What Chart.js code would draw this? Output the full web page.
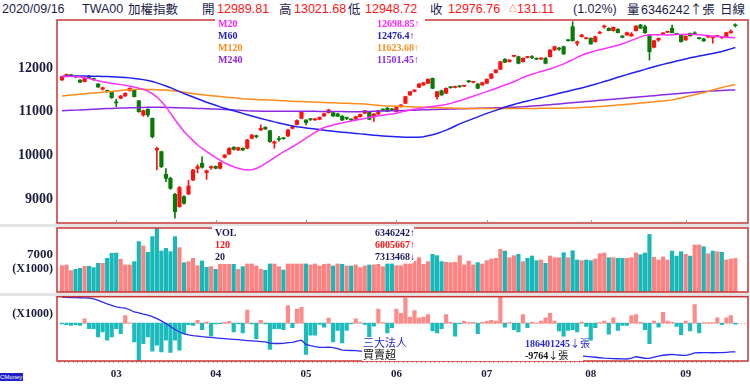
<!DOCTYPE html>
<html>
<head>
<meta charset="utf-8">
<script src="https://cdn.jsdelivr.net/npm/chart.js@4.4.0/dist/chart.umd.min.js"></script>
<style>
  body { margin: 0; background: #fff; width: 750px; height: 391px; overflow: hidden; position: relative;
         font-family: "Liberation Sans", "Noto Sans CJK TC", sans-serif; }
  canvas { position: absolute; left: 0; }
  .t { position: absolute; white-space: nowrap; }
  .hd { top: 1px; font-size: 12.5px; line-height: 16px; color: #1c1c4c; }
  .hd.r { color: #ff1414; }
  .cj { font-family: "Noto Sans CJK TC", sans-serif; }
  .band { position: absolute; left: 0; width: 750px; background: #e4e4e4; }
  .box { position: absolute; background: #fff; }
  .lg { font: bold 10px "Liberation Serif", serif; line-height: 12px; }
  .ax { font: bold 13px "Liberation Serif", serif; color: #1c1c3c; text-align: right; }
</style>
</head>
<body>
<!-- header -->
<span class="t hd" style="left:2px">2020/09/16</span>
<span class="t hd" style="left:82px">TWA00</span>
<span class="t hd cj" style="left:128px">加權指數</span>
<span class="t hd cj" style="left:202px">開</span>
<span class="t hd r" style="left:217px">12989.81</span>
<span class="t hd cj" style="left:279px">高</span>
<span class="t hd r" style="left:294px">13021.68</span>
<span class="t hd cj" style="left:348px">低</span>
<span class="t hd r" style="left:365px">12948.72</span>
<span class="t hd cj" style="left:430px">收</span>
<span class="t hd r" style="left:448px">12976.76</span>
<span class="t hd r" style="left:509px"><span style="font-size:8px;vertical-align:2px">△</span>131.11</span>
<span class="t hd" style="left:573px">(1.02%)</span>
<span class="t hd cj" style="left:627px">量</span>
<span class="t hd" style="left:641px">6346242<span class="cj">↑張</span></span>
<span class="t hd cj" style="left:720px">日線</span>

<div class="band" style="top:224px;height:3px"></div>
<div class="band" style="top:293px;height:3px"></div>

<canvas id="cMain" width="750" height="206" style="top:19px"></canvas>
<canvas id="cVol" width="750" height="68" style="top:226px"></canvas>
<canvas id="cInst" width="750" height="96" style="top:295px"></canvas>

<!-- MA legend -->
<div class="box" style="left:215px;top:17px;width:210px;height:48px"></div>
<span class="t lg" style="left:218px;top:18px;color:#ff22ff">M20</span>
<span class="t lg" style="left:218px;top:30px;color:#2424b4">M60</span>
<span class="t lg" style="left:218px;top:42px;color:#ff8c1a">M120</span>
<span class="t lg" style="left:218px;top:54px;color:#8a2be2">M240</span>
<span class="t lg" style="left:377px;top:18px;color:#ff22ff">12698.85↑</span>
<span class="t lg" style="left:377px;top:30px;color:#2424b4">12476.4↑</span>
<span class="t lg" style="left:377px;top:42px;color:#ff8c1a">11623.68↑</span>
<span class="t lg" style="left:377px;top:54px;color:#8a2be2">11501.45↑</span>

<!-- volume legend -->
<div class="box" style="left:212px;top:226px;width:202px;height:37px"></div>
<span class="t lg" style="left:215px;top:227px;color:#1c1c5c">VOL</span>
<span class="t lg" style="left:215px;top:239px;color:#ff1414">120</span>
<span class="t lg" style="left:215px;top:251px;color:#1c1c5c">20</span>
<span class="t lg" style="left:375px;top:227px;color:#1c1c5c">6346242↑</span>
<span class="t lg" style="left:375px;top:239px;color:#ff1414">6005667↑</span>
<span class="t lg" style="left:375px;top:251px;color:#1c1c5c">7313468↓</span>
<span class="t ax" style="right:697px;top:261px;font-size:12px">(X1000)</span>

<!-- institutional legend -->
<div class="box" style="left:362px;top:337px;width:221px;height:24px"></div>
<span class="t cj" style="left:363px;top:336px;font-size:11px;line-height:13px;color:#2828d0">三大法人</span>
<span class="t cj" style="left:363px;top:348px;font-size:11px;line-height:13px;color:#111">買賣超</span>
<span class="t lg" style="left:525px;top:337px;color:#2828d0">186401245<span class="cj" style="font-weight:normal">↓張</span></span>
<span class="t lg" style="left:525px;top:349px;color:#111">-9764<span class="cj" style="font-weight:normal">↓張</span></span>
<span class="t ax" style="right:697px;top:306px;font-size:12px">(X1000)</span>

<span class="t" style="left:0;top:373px;width:23px;height:8px;background:#2020c8;color:#fff;font:6px 'Liberation Sans';line-height:8px">CMoney</span>

<script>
// month ticks on the date axis (trading-day index)
const monthIdx = [12, 34, 54, 74, 94, 117, 138];
const monthLabels = ['03', '04', '05', '06', '07', '08', '09'];
const yTicksMain = [9000, 10000, 11000, 12000];
const yTicksVol = [7000];

// daily candles 2020/02/12 .. 2020/09/16
const openP = [
  11731, 11835, 11845, 11810, 11730, 11693, 11823, 11760, 11640, 11520,
  11480, 11460, 11215, 11310, 11365, 11485, 11500, 11256, 10928, 11060,
  10852, 10125, 10086, 9567, 9476, 9108, 8826, 9054, 9116, 9436,
  9700, 9820, 9605, 9720, 9750, 9705, 9957, 10033, 10190, 10125,
  10165, 10164, 10393, 10440, 10584, 10645, 10568, 10280, 10370, 10395,
  10446, 10623, 10710, 10852, 10814, 10835, 10815, 10830, 10905, 10981,
  10981, 10955, 10905, 10855, 10815, 10830, 10889, 10967, 11004, 10889,
  10950, 11045, 11088, 11050, 11004, 11130, 11197, 11387, 11470, 11564,
  11617, 11656, 11770, 11348, 11486, 11426, 11560, 11560, 11580, 11590,
  11700, 11680, 11640, 11617, 11656, 11770, 11899, 11977, 12207, 12151,
  12275, 12266, 12151, 12250, 12266, 12225, 12215, 12230, 12266, 12420,
  12460, 12496, 12640, 12955, 12574, 12725, 12680, 12688, 12610, 12803,
  12950, 12918, 12863, 12895, 12741, 12764, 12741, 12863, 12994, 12955,
  12764, 12482, 12649, 12787, 12826, 12918, 12790, 12764, 12649, 12803,
  12795, 12700, 12672, 12720, 12700, 12730, 12700, 12710, 12817, 12989.81
];
const highP = [
  11815, 11870, 11860, 11825, 11740, 11780, 11840, 11775, 11650, 11570,
  11500, 11470, 11290, 11375, 11440, 11555, 11510, 11260, 11040, 11070,
  10860, 10190, 10100, 9700, 9500, 9130, 9290, 9080, 9430, 9680,
  9790, 9970, 9665, 9760, 9760, 9840, 10020, 10180, 10200, 10190,
  10175, 10370, 10480, 10470, 10700, 10660, 10575, 10330, 10440, 10410,
  10600, 10680, 10815, 11010, 10820, 10850, 10850, 10885, 10970, 11060,
  10990, 10965, 10915, 10880, 10840, 10900, 10950, 11035, 11010, 10960,
  11035, 11070, 11100, 11080, 11110, 11170, 11360, 11470, 11510, 11650,
  11680, 11760, 11780, 11470, 11500, 11550, 11580, 11590, 11600, 11610,
  11720, 11700, 11650, 11680, 11760, 11880, 11970, 12160, 12220, 12200,
  12300, 12280, 12240, 12270, 12290, 12240, 12240, 12250, 12430, 12510,
  12480, 12510, 12660, 13069, 12625, 12780, 12700, 12700, 12740, 12850,
  12990, 12930, 12950, 12910, 12750, 12830, 12820, 12975, 13010, 12990,
  12780, 12640, 12700, 12820, 12850, 12994, 12800, 12770, 12740, 12810,
  12840, 12710, 12690, 12740, 12710, 12760, 12720, 12830, 12880, 13021.68
];
const lowP = [
  11720, 11815, 11815, 11780, 11670, 11685, 11765, 11720, 11560, 11500,
  11450, 11310, 11120, 11300, 11355, 11475, 11340, 10990, 10900, 10890,
  10400, 9670, 9720, 9400, 9220, 8560, 8810, 8880, 9100, 9420,
  9600, 9710, 9450, 9680, 9690, 9690, 9940, 10020, 10120, 10110,
  10110, 10150, 10380, 10400, 10570, 10595, 10300, 10164, 10330, 10370,
  10430, 10610, 10700, 10840, 10700, 10800, 10805, 10820, 10895, 10970,
  10895, 10890, 10800, 10820, 10790, 10820, 10880, 10960, 10820, 10780,
  10940, 11020, 11000, 11030, 10995, 11110, 11190, 11380, 11460, 11555,
  11610, 11650, 11530, 11289, 11380, 11420, 11540, 11550, 11560, 11575,
  11670, 11665, 11530, 11610, 11650, 11760, 11890, 11970, 12130, 12140,
  12260, 12100, 12140, 12235, 12220, 12200, 12200, 12100, 12255, 12410,
  12410, 12320, 12620, 12620, 12520, 12715, 12670, 12550, 12600, 12795,
  12920, 12860, 12850, 12810, 12700, 12755, 12735, 12850, 12910, 12800,
  12190, 12470, 12620, 12780, 12820, 12810, 12770, 12600, 12640, 12740,
  12770, 12670, 12620, 12700, 12575, 12720, 12680, 12700, 12800, 12948.72
];
const closeP = [
  11807, 11845, 11830, 11800, 11680, 11770, 11775, 11745, 11570, 11555,
  11470, 11325, 11205, 11365, 11425, 11540, 11350, 11004, 11027, 10928,
  10430, 10160, 9742, 9476, 9246, 8709, 9262, 8902, 9300, 9666,
  9745, 9728, 9650, 9742, 9705, 9832, 10010, 10164, 10140, 10180,
  10125, 10355, 10469, 10430, 10623, 10607, 10316, 10316, 10365, 10385,
  10584, 10660, 10800, 11004, 10752, 10825, 10840, 10875, 10960, 11043,
  10905, 10900, 10814, 10850, 10814, 10889, 10944, 11027, 10830, 10950,
  11027, 11040, 11004, 11045, 11105, 11158, 11350, 11463, 11502, 11640,
  11670, 11748, 11541, 11463, 11387, 11541, 11555, 11575, 11578, 11595,
  11693, 11690, 11541, 11670, 11748, 11869, 11961, 12151, 12138, 12190,
  12282, 12115, 12230, 12252, 12245, 12207, 12220, 12115, 12420, 12496,
  12440, 12328, 12633, 12633, 12610, 12764, 12688, 12558, 12725, 12826,
  12955, 12863, 12941, 12817, 12711, 12817, 12787, 12971, 12918, 12817,
  12381, 12633, 12688, 12803, 12840, 12817, 12780, 12610, 12741, 12741,
  12790, 12680, 12626, 12725, 12705, 12750, 12705, 12817, 12845.65, 12976.76
];

// moving averages as drawn
const ma20 = [
  11810, 11812, 11812, 11810, 11800, 11785, 11765, 11740, 11715, 11690,
  11672, 11655, 11640, 11625, 11610, 11590, 11570, 11545, 11515, 11475,
  11420, 11340, 11240, 11120, 10970, 10820, 10680, 10550, 10440, 10340,
  10240, 10160, 10090, 10020, 9950, 9890, 9830, 9780, 9740, 9705,
  9680, 9668, 9672, 9700, 9750, 9810, 9880, 9950, 10020, 10080,
  10140, 10200, 10260, 10330, 10400, 10460, 10530, 10590, 10640, 10670,
  10700, 10725, 10745, 10770, 10790, 10810, 10830, 10850, 10870, 10890,
  10910, 10925, 10938, 10950, 10970, 10995, 11020, 11043, 11060, 11078,
  11095, 11110, 11125, 11140, 11152, 11170, 11195, 11225, 11256, 11290,
  11325, 11360, 11395, 11430, 11465, 11500, 11535, 11575, 11615, 11650,
  11690, 11740, 11790, 11830, 11865, 11895, 11925, 11955, 11985, 12020,
  12060, 12100, 12150, 12200, 12250, 12300, 12340, 12370, 12400, 12425,
  12450, 12475, 12500, 12530, 12565, 12600, 12640, 12680, 12720, 12755,
  12765, 12768, 12770, 12768, 12765, 12770, 12775, 12778, 12780, 12780,
  12778, 12770, 12760, 12750, 12740, 12730, 12720, 12712, 12705, 12698.85
];
const ma60 = [
  11815, 11818, 11820, 11822, 11822, 11822, 11820, 11818, 11815, 11812,
  11810, 11805, 11800, 11795, 11790, 11780, 11768, 11755, 11740, 11720,
  11695, 11665, 11630, 11595, 11555, 11510, 11465, 11420, 11380, 11340,
  11300, 11260, 11220, 11185, 11150, 11115, 11085, 11055, 11025, 10995,
  10965, 10935, 10905, 10878, 10850, 10822, 10795, 10770, 10745, 10720,
  10698, 10678, 10660, 10645, 10630, 10617, 10605, 10593, 10580, 10568,
  10556, 10545, 10535, 10525, 10515, 10505, 10495, 10485, 10475, 10465,
  10455, 10447, 10440, 10433, 10427, 10422, 10418, 10416, 10416, 10420,
  10430, 10450, 10475, 10505, 10540, 10580, 10625, 10675, 10725, 10765,
  10805, 10845, 10885, 10925, 10965, 11000, 11035, 11070, 11105, 11140,
  11170, 11200, 11225, 11250, 11275, 11300, 11325, 11350, 11375, 11400,
  11425, 11450, 11475, 11500, 11525, 11550, 11575, 11605, 11635, 11665,
  11695, 11725, 11760, 11795, 11825, 11855, 11885, 11915, 11945, 11975,
  12005, 12035, 12062, 12090, 12115, 12140, 12165, 12190, 12215, 12240,
  12260, 12280, 12300, 12320, 12340, 12360, 12385, 12415, 12445, 12476.4
];
const ma120 = [
  11365, 11375, 11385, 11395, 11405, 11415, 11425, 11433, 11440, 11450,
  11460, 11470, 11480, 11490, 11500, 11508, 11515, 11518, 11518, 11516,
  11512, 11508, 11504, 11500, 11490, 11478, 11465, 11450, 11435, 11420,
  11405, 11392, 11380, 11370, 11362, 11352, 11342, 11332, 11322, 11312,
  11302, 11296, 11290, 11285, 11280, 11276, 11272, 11266, 11260, 11255,
  11250, 11245, 11240, 11236, 11232, 11228, 11224, 11220, 11216, 11212,
  11208, 11204, 11200, 11196, 11192, 11188, 11184, 11178, 11170, 11160,
  11150, 11142, 11137, 11133, 11130, 11126, 11122, 11118, 11114, 11110,
  11106, 11103, 11100, 11097, 11094, 11091, 11088, 11085, 11082, 11080,
  11078, 11077, 11076, 11075, 11075, 11075, 11075, 11075, 11075, 11075,
  11076, 11077, 11078, 11079, 11080, 11080, 11081, 11081, 11082, 11082,
  11083, 11084, 11086, 11090, 11095, 11100, 11106, 11112, 11118, 11124,
  11130, 11138, 11146, 11155, 11164, 11173, 11182, 11192, 11202, 11212,
  11222, 11232, 11242, 11252, 11262, 11275, 11295, 11320, 11345, 11370,
  11395, 11420, 11445, 11470, 11500, 11530, 11560, 11585, 11605, 11623.68
];
const ma240 = [
  11025, 11030, 11035, 11040, 11045, 11050, 11055, 11060, 11065, 11070,
  11075, 11080, 11083, 11087, 11090, 11094, 11097, 11100, 11102, 11104,
  11105, 11105, 11104, 11102, 11100, 11097, 11094, 11090, 11086, 11083,
  11080, 11076, 11072, 11068, 11064, 11060, 11055, 11050, 11045, 11040,
  11033, 11026, 11022, 11019, 11017, 11015, 11013, 11012, 11012, 11012,
  11013, 11015, 11017, 11017, 11016, 11015, 11013, 11011, 11010, 11009,
  11008, 11007, 11006, 11005, 11005, 11005, 11005, 11007, 11010, 11013,
  11016, 11019, 11022, 11025, 11028, 11031, 11034, 11037, 11040, 11043,
  11046, 11049, 11052, 11055, 11058, 11061, 11064, 11067, 11070, 11073,
  11076, 11079, 11082, 11085, 11088, 11091, 11094, 11097, 11100, 11104,
  11108, 11112, 11116, 11124, 11132, 11140, 11148, 11156, 11165, 11174,
  11183, 11192, 11201, 11210, 11219, 11228, 11237, 11246, 11255, 11264,
  11273, 11282, 11291, 11300, 11309, 11318, 11327, 11336, 11345, 11354,
  11363, 11372, 11381, 11390, 11399, 11408, 11417, 11426, 11435, 11443,
  11451, 11459, 11466, 11473, 11480, 11486, 11491, 11495, 11499, 11501.45
];

// volume (x1000 lots); 1 = up day (red), 0 = down day (teal)
const volume = [
  4980, 5100, 4040, 4290, 4480, 4850, 4850, 4600, 5420, 5420,
  6370, 7310, 7370, 6180, 5110, 5110, 5740, 9520, 8700, 7500,
  10470, 12050, 7740, 8250, 7620, 10470, 8380, 5540, 5740, 6370,
  4980, 5860, 4670, 4790, 4290, 5230, 5230, 5230, 5230, 4290,
  4790, 5300, 5300, 4920, 4290, 4100, 5300, 5300, 4790, 4160,
  5300, 5300, 5300, 5300, 5300, 5110, 5300, 4920, 5230, 5300,
  4920, 5300, 5230, 4920, 4920, 5110, 4600, 4920, 5110, 5110,
  5230, 4790, 5300, 5300, 4980, 4980, 5300, 5300, 5860, 6490,
  5230, 5740, 7120, 6870, 5740, 5610, 5550, 5610, 6870, 5110,
  5860, 5110, 5550, 5300, 5930, 6240, 6370, 8070, 7740, 6490,
  6870, 7120, 5740, 6370, 6800, 5930, 6050, 5420, 6800, 6490,
  6490, 7430, 6490, 7810, 6050, 5930, 6050, 5930, 6240, 7240,
  7370, 6490, 6490, 6370, 6370, 6370, 6490, 7370, 7050, 7370,
  10880, 6550, 6050, 6620, 6050, 7740, 6800, 7620, 7120, 6800,
  8890, 8890, 8570, 7240, 7740, 7620, 7500, 6050, 6240, 6346
];
const volUp = [
  1, 1, 1, 0, 0, 1, 0, 0, 0, 1,  0, 0, 0, 1, 1, 1, 0, 0, 1, 0,
  0, 0, 0, 0, 0, 0, 1, 0, 1, 1,  1, 0, 0, 1, 0, 1, 1, 1, 0, 1,
  0, 1, 1, 1, 1, 0, 0, 1, 1, 0,  1, 1, 1, 1, 0, 1, 1, 1, 1, 1,
  0, 1, 0, 1, 0, 1, 1, 1, 0, 1,  1, 1, 0, 0, 1, 1, 1, 1, 1, 1,
  1, 1, 0, 0, 0, 1, 1, 1, 1, 1,  1, 1, 0, 1, 1, 1, 1, 1, 0, 1,
  1, 0, 1, 0, 0, 0, 1, 0, 1, 1,  1, 0, 1, 0, 0, 1, 0, 0, 1, 1,
  1, 0, 1, 0, 0, 1, 1, 1, 0, 0,  0, 1, 1, 1, 1, 0, 0, 0, 1, 0,
  1, 1, 0, 1, 0, 1, 0, 1, 1, 1
];

// institutional net buy/sell (x1000 lots) and holdings line (x1000 lots)
const instNet = [
  -7, -17, -23, -17, -23, 43, -57, -57, -140, -90,
  -173, -140, -57, -107, 77, 3, -190, -380, -207, -140,
  -283, -223, -290, -173, -297, -173, -273, -107, -17, -23,
  27, -67, 10, -130, -7, -5, 7, 17, -90, -5,
  -100, 133, -7, -157, 27, -7, -267, -57, -57, -67,
  177, -47, 143, 160, -317, -123, -123, -13, -40, 50,
  -190, -73, -200, -73, -5, 43, 5, -13, -140, -30,
  143, 5, -100, -47, 143, 100, 253, 60, 127, 53,
  60, 87, -80, -100, -57, 87, 7, -133, -5, 17,
  5, 7, -107, 7, 17, 27, 20, 260, -40, 5,
  -67, -90, 87, -47, 7, 3, 20, 53, 100, 20,
  -80, -133, -73, -67, -90, 10, -33, -173, -47, 5,
  20, -113, 53, -73, -23, -23, 77, 87, 7, -67,
  -207, 20, -40, 110, 20, 10, -33, -117, 20, -80,
  187, -100, 5, 5, 5, 53, -17, 53, 77, -9.8
];
const instHold = [
  197400, 197390, 197380, 197360, 197330, 197300, 197280, 197100, 196800, 196450,
  196100, 195800, 195500, 195350, 195250, 194900, 194450, 194250, 194000, 193800,
  193500, 193100, 192650, 192100, 191500, 190900, 190400, 190000, 189800, 189650,
  189550, 189450, 189380, 189300, 189200, 189120, 189050, 188980, 188920, 188850,
  188760, 188680, 188610, 188540, 188470, 188400, 188150, 188080, 188080, 188100,
  188250, 188300, 188550, 188750, 187900, 187650, 187450, 187300, 187280, 187330,
  187250, 187050, 186750, 186680, 186660, 186650, 186550, 186520, 186480, 186450,
  186420, 186400, 186370, 186350, 186330, 186300, 186280, 186260, 186230, 186210,
  186190, 186170, 186140, 186120, 186100, 186080, 186050, 186030, 186010, 185990,
  185970, 185950, 185920, 185900, 185880, 185860, 185840, 185810, 185790, 185770,
  185750, 185730, 185710, 185690, 185670, 185650, 185630, 185610, 185600, 185590,
  185580, 185570, 185560, 185550, 185545, 185540, 185460, 185380, 185300, 185200,
  185110, 185060, 185020, 184990, 184960, 184945, 185100, 185400, 185250, 185100,
  185080, 185300, 185540, 185700, 185800, 185880, 185780, 185700, 185680, 185900,
  186200, 186210, 186220, 186220, 186210, 186220, 186230, 186300, 186380, 186401
];

const RED = '#ff1010', GREEN = '#087a08';
const VOL_UP = '#ff8282', VOL_DN = '#18b8b8';
const FRAME = '#c83434';
const idx = closeP.map((_, i) => i);
const pts = (arr) => arr.map((v, i) => ({ x: i, y: v }));
const candleCol = idx.map((i) => (closeP[i] >= openP[i] ? RED : GREEN));

const xRange = { type: 'linear', min: -1.1, max: 151.8, offset: false };
const tickFont = { family: 'Liberation Serif', weight: 'bold', size: 14 };

function fixedY(width) {
  return (s) => { s.width = width; s.paddingTop = 0; s.paddingBottom = 0; };
}

// red frame round the plot area, month notches, dotted zero line
function framePlugin(opt) {
  return {
    id: 'frame',
    beforeDatasetsDraw(chart) {
      if (!opt.zero) return;
      const { ctx, chartArea: a } = chart;
      const y0 = Math.round(chart.scales.y.getPixelForValue(0)) + 0.5;
      ctx.save();
      ctx.strokeStyle = '#ff9090';
      ctx.setLineDash([1, 2]);
      ctx.beginPath(); ctx.moveTo(a.left, y0); ctx.lineTo(a.right, y0); ctx.stroke();
      ctx.restore();
    },
    afterDraw(chart) {
      const { ctx, chartArea: a } = chart;
      ctx.save();
      ctx.strokeStyle = FRAME; ctx.lineWidth = 1.5;
      ctx.strokeRect(a.left, a.top, a.right - a.left, a.bottom - a.top);
      if (opt.notches) {
        ctx.strokeStyle = '#999'; ctx.lineWidth = 1;
        monthIdx.forEach((m) => {
          const x = Math.round(chart.scales.x.getPixelForValue(m)) + 0.5;
          ctx.beginPath(); ctx.moveTo(x, a.bottom - 3); ctx.lineTo(x, a.bottom); ctx.stroke();
        });
      }
      ctx.restore();
    },
  };
}

const common = {
  responsive: false, animation: false, events: [],
  plugins: { legend: { display: false }, tooltip: { enabled: false } },
};
const plain = (v) => String(v);

// price panel
new Chart(document.getElementById('cMain'), {
  type: 'bar',
  data: { datasets: [
    { type: 'line', data: pts(ma20), borderColor: '#ff30ff', borderWidth: 1.5, pointRadius: 0, order: 0 },
    { type: 'line', data: pts(ma60), borderColor: '#2020f0', borderWidth: 1.5, pointRadius: 0, order: 0 },
    { type: 'line', data: pts(ma120), borderColor: '#ff8c1a', borderWidth: 1.5, pointRadius: 0, order: 0 },
    { type: 'line', data: pts(ma240), borderColor: '#8a2be2', borderWidth: 1.5, pointRadius: 0, order: 0 },
    { data: idx.map((i) => ({ x: i, y: [lowP[i], highP[i]] })), backgroundColor: candleCol,
      barThickness: 1, grouped: false, order: 2 },
    { data: idx.map((i) => ({ x: i, y: [openP[i], closeP[i]] })), backgroundColor: candleCol,
      barThickness: 3.5, minBarLength: 1, grouped: false, order: 1 },
  ] },
  options: {
    ...common,
    layout: { padding: { top: 1, bottom: 2, left: 0, right: 2 } },
    scales: {
      x: { ...xRange, display: false },
      y: {
        min: 8450, max: 13108,
        afterBuildTicks: (s) => { s.ticks = yTicksMain.map((v) => ({ value: v })); },
        afterFit: fixedY(57),
        grid: { display: false, drawTicks: false }, border: { display: false },
        ticks: { font: tickFont, color: '#1c1c3c', padding: 4, callback: plain },
      },
    },
  },
  plugins: [framePlugin({ notches: true })],
});

// volume panel
new Chart(document.getElementById('cVol'), {
  type: 'bar',
  data: { datasets: [{
    data: pts(volume),
    backgroundColor: volUp.map((u) => (u ? VOL_UP : VOL_DN)),
    barThickness: 3.5,
  }] },
  options: {
    ...common,
    layout: { padding: { top: 2, bottom: 2, left: 0, right: 2 } },
    scales: {
      x: { ...xRange, display: false },
      y: {
        min: 0, max: 12100,
        afterBuildTicks: (s) => { s.ticks = yTicksVol.map((v) => ({ value: v })); },
        afterFit: fixedY(57),
        grid: { display: false, drawTicks: false }, border: { display: false },
        ticks: { font: { ...tickFont, size: 13 }, color: '#1c1c3c', padding: 4, callback: plain },
      },
    },
  },
  plugins: [framePlugin({})],
});

// institutional panel
new Chart(document.getElementById('cInst'), {
  type: 'bar',
  data: { datasets: [
    { type: 'line', data: pts(instHold), yAxisID: 'y2', borderColor: '#2a2af0', borderWidth: 1.3,
      pointRadius: 0, order: 0 },
    { data: pts(instNet), yAxisID: 'y', backgroundColor: instNet.map((v) => (v >= 0 ? '#ff8a8a' : '#1cbcbc')),
      barThickness: 3.5, order: 1 },
  ] },
  options: {
    ...common,
    layout: { padding: { top: 1.7, bottom: 0, left: 57, right: 2 } },
    scales: {
      x: {
        ...xRange, display: true, position: 'bottom',
        afterBuildTicks: (s) => { s.ticks = idx.map((v) => ({ value: v })); },
        afterFit: (s) => { s.height = 30; s.paddingLeft = 0; s.paddingRight = 0; },
        grid: { display: true, drawOnChartArea: false, drawTicks: true, tickLength: 2, color: '#ff8080' },
        border: { display: false },
        ticks: {
          autoSkip: false, maxRotation: 0, padding: 5, color: '#1c1c3c',
          font: { family: 'Liberation Serif', weight: 'bold', size: 11 },
          callback: (v) => { const k = monthIdx.indexOf(v); return k >= 0 ? monthLabels[k] : ''; },
        },
      },
      y: { min: -383, max: 267, display: false },
      y2: { min: 184540, max: 197540, display: false },
    },
  },
  plugins: [framePlugin({ zero: true })],
});
</script>
</body>
</html>
